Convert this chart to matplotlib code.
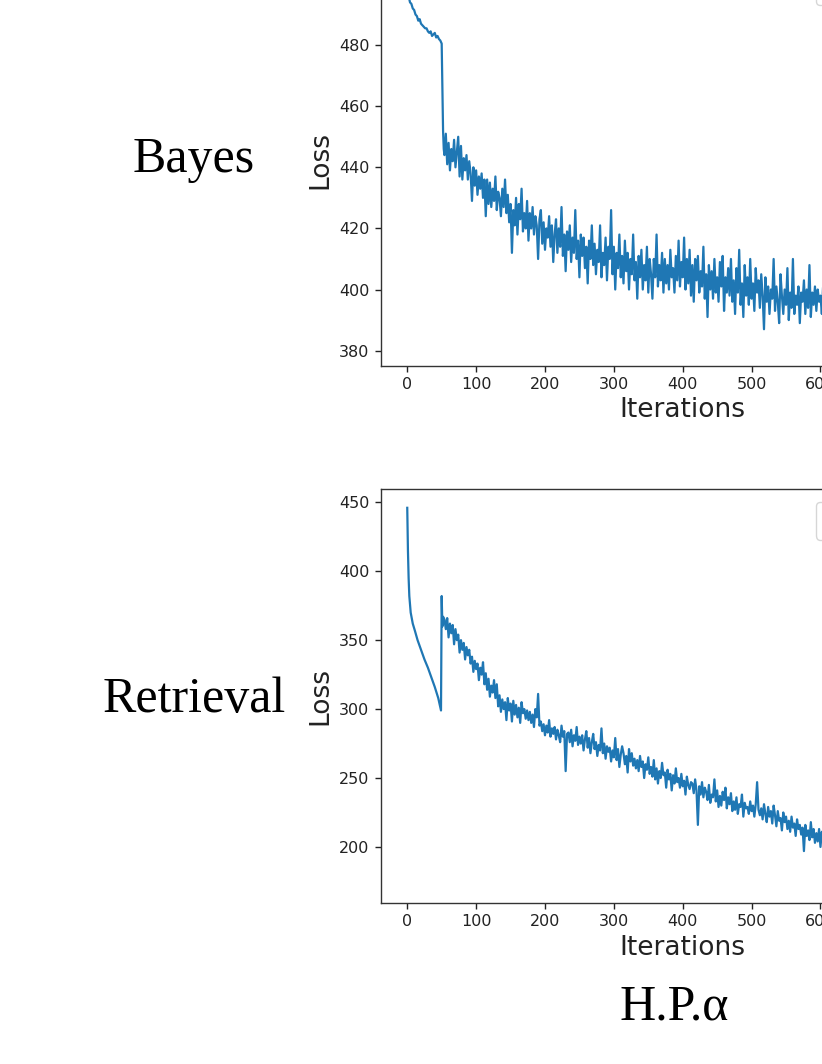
import matplotlib
matplotlib.use('Agg')
import matplotlib.pyplot as plt


# Bayes run: slow warm-up, a sharp drop near iteration 50, then noisy decay
bayes_warm_iters = [0, 2, 4, 6, 8, 10, 12, 14, 16, 18, 20, 22, 24, 26, 28, 30,
	32, 34, 36, 38, 40, 42, 44, 46, 48, 50]
bayes_warm_loss = [499, 496, 494, 493.5, 492, 491.5, 490, 489.5, 488, 488.5, 487, 486.5,
	486, 485.5, 485.5, 484.5, 484, 484.5, 483, 483.5, 484, 482.5, 483, 482, 481.5, 480.5]
bayes_drop_iters = [51, 52, 53]
bayes_drop_loss = [465, 452, 446]
bayes_noisy_start = 54   # every 2nd iteration from here on
bayes_noisy_loss = [
	444, 451, 441, 448, 439, 446, 442, 449, 440, 445,
	450, 437, 447, 436, 443, 439, 444, 436, 442, 438,
	429, 440, 434, 439, 431, 437, 433, 438, 430, 436,
	424, 436, 428, 435, 427, 433, 429, 437, 426, 432,
	430, 424, 433, 427, 436, 425, 431, 422, 428, 412,
	426, 421, 430, 418, 428, 423, 433, 419, 425, 420,
	429, 416, 425, 420, 427, 418, 424, 421, 410, 423,
	426, 415, 422, 413, 420, 417, 424, 414, 421, 409,
	418, 423, 412, 420, 414, 427, 411, 418, 406, 419,
	413, 421, 409, 417, 412, 426, 410, 416, 404, 418,
	411, 417, 407, 414, 402, 416, 410, 421, 408, 415,
	405, 413, 409, 421, 404, 412, 408, 417, 403, 414,
	410, 426, 405, 414, 400, 412, 407, 418, 404, 411,
	402, 416, 406, 412, 400, 410, 405, 418, 403, 409,
	397, 411, 404, 413, 400, 408, 403, 414, 399, 410,
	405, 397, 410, 404, 418, 401, 408, 403, 412, 399,
	410, 402, 408, 400, 413, 404, 407, 399, 411, 403,
	416, 401, 409, 404, 417, 400, 410, 402, 413, 398,
	408, 396, 410, 403, 411, 399, 406, 401, 414, 397,
	405, 391, 408, 400, 406, 397, 410, 399, 404, 396,
	409, 401, 411, 393, 404, 399, 407, 398, 410, 396,
	403, 392, 407, 399, 413, 395, 402, 391, 408, 398,
	404, 395, 410, 397, 402, 393, 407, 399, 403, 394,
	405, 398, 387, 404, 396, 401, 392, 400, 397, 410,
	393, 401, 396, 389, 405, 398, 392, 400, 395, 407,
	390, 399, 394, 410, 392, 398, 395, 401, 389, 399,
	396, 403, 392, 400, 394, 408, 391, 399, 395, 401,
	393, 400, 396, 398, 392, 402, 395, 399, 394, 400,
]

# Retrieval run: smooth decay, restart jump at iteration 50, then noisy decay
retrieval_warm_iters = [0, 1, 2, 3, 5, 8, 11, 15, 20, 25, 30, 35, 40, 45, 49]
retrieval_warm_loss = [446, 415, 395, 382, 370, 362, 357, 350, 343, 336, 330, 323, 316, 308, 299]
retrieval_jump_iters = [50, 51, 52]
retrieval_jump_loss = [382, 360, 367]
retrieval_noisy_start = 54
retrieval_noisy_loss = [
	365, 358, 366, 352, 362, 355, 361, 347, 358, 350,
	354, 341, 350, 343, 348, 336, 345, 339, 343, 333,
	338, 327, 335, 329, 333, 321, 330, 325, 334, 318,
	326, 314, 322, 309, 317, 312, 321, 308, 318, 302,
	310, 298, 307, 300, 305, 292, 308, 299, 304, 291,
	306, 296, 303, 294, 301, 290, 305, 297, 300, 293,
	299, 292, 298, 290, 296, 287, 300, 294, 311, 288,
	291, 284, 289, 281, 288, 283, 292, 280, 286, 282,
	287, 278, 285, 281, 276, 288, 280, 284, 255, 282,
	283, 276, 285, 273, 281, 277, 287, 274, 280, 275,
	281, 270, 278, 284, 272, 279, 268, 276, 282, 271,
	276, 266, 274, 270, 286, 268, 275, 264, 273, 269,
	272, 262, 270, 265, 279, 263, 271, 258, 267, 273,
	268, 260, 266, 254, 271, 262, 268, 259, 264, 257,
	263, 255, 266, 258, 262, 250, 260, 256, 265, 253,
	258, 251, 263, 249, 257, 246, 255, 250, 261, 252,
	254, 243, 256, 249, 253, 241, 252, 246, 257, 247,
	250, 243, 253, 244, 248, 238, 251, 245, 242, 247,
	246, 239, 249, 241, 216, 244, 238, 247, 236, 243,
	240, 234, 245, 232, 238, 236, 249, 233, 241, 229,
	237, 230, 240, 234, 243, 228, 236, 231, 239, 226,
	233, 227, 236, 224, 231, 229, 238, 222, 232, 228,
	229, 224, 233, 226, 230, 222, 231, 247, 227, 223,
	228, 220, 231, 224, 218, 229, 222, 226, 217, 230,
	223, 215, 226, 219, 221, 212, 225, 218, 222, 213,
	219, 211, 222, 214, 217, 208, 220, 213, 216, 209,
	214, 197, 216, 208, 212, 205, 218, 207, 213, 203,
	210, 204, 213, 200, 211, 206, 214, 203, 209, 205,
]

x_ticks = [0, 100, 200, 300, 400, 500, 600, 700, 800]
bayes_y_ticks = [380, 400, 420, 440, 460, 480, 500]
retrieval_y_ticks = [200, 250, 300, 350, 400, 450]

row_names = ['Bayes', 'Retrieval']
column_name = 'H.P.\u03b1'


def join_series(parts, noisy_start, noisy_loss, step=2):
	'''Glue the hand-read pieces of one curve into x and y lists'''
	xs, ys = [], []
	for iters, loss in parts:
		xs += list(iters)
		ys += list(loss)
	xs += list(range(noisy_start, noisy_start + step * len(noisy_loss), step))
	ys += noisy_loss
	return xs, ys


def plot_loss(ax: plt.Axes, xs, ys, ylim, yticks):
	'''One loss panel, styled like the default matplotlib output in the paper'''
	ax.plot(xs, ys, color='#1f77b4', linewidth=1.6, label='Loss')
	ax.set_xlim(-38.6, 836.4)
	ax.set_ylim(*ylim)
	ax.set_xticks(x_ticks)
	ax.set_yticks(yticks)
	ax.tick_params(labelsize=11.5, length=4.5, width=1.0, colors='#222222')
	for spine in ax.spines.values():
		spine.set_linewidth(1.0)
		spine.set_color('#333333')
	ax.set_xlabel('Iterations', fontsize=19, color='#222222')
	ax.set_ylabel('Loss', fontsize=19, color='#222222')
	ax.legend(loc='upper left', bbox_to_anchor=(0.7224, 0.970), borderaxespad=0,
		fontsize=16, handlelength=2)


def main():
	fig = plt.figure(figsize=(8.22, 10.64), dpi=100)

	ax_top = fig.add_axes([0.4631, 0.6564, 0.7331, 0.3859])
	bx, by = join_series([(bayes_warm_iters, bayes_warm_loss), (bayes_drop_iters, bayes_drop_loss)],
		bayes_noisy_start, bayes_noisy_loss)
	plot_loss(ax_top, bx, by, (375.1, 509.5), bayes_y_ticks)

	ax_bot = fig.add_axes([0.4631, 0.1510, 0.7331, 0.3891])
	rx, ry = join_series([(retrieval_warm_iters, retrieval_warm_loss),
		(retrieval_jump_iters, retrieval_jump_loss)], retrieval_noisy_start, retrieval_noisy_loss)
	plot_loss(ax_bot, rx, ry, (159.1, 459.4), retrieval_y_ticks)

	serif = ['Liberation Serif', 'DejaVu Serif']
	fig.text(0.236, 0.8386, row_names[0], family=serif, fontsize=36, ha='center', va='baseline')
	fig.text(0.236, 0.3311, row_names[1], family=serif, fontsize=36, ha='center', va='baseline')
	fig.text(0.820, 0.0414, column_name, family=serif, fontsize=36, ha='center', va='baseline')

	fig.savefig('out.png', dpi=100)


if __name__ == '__main__':
	main()
